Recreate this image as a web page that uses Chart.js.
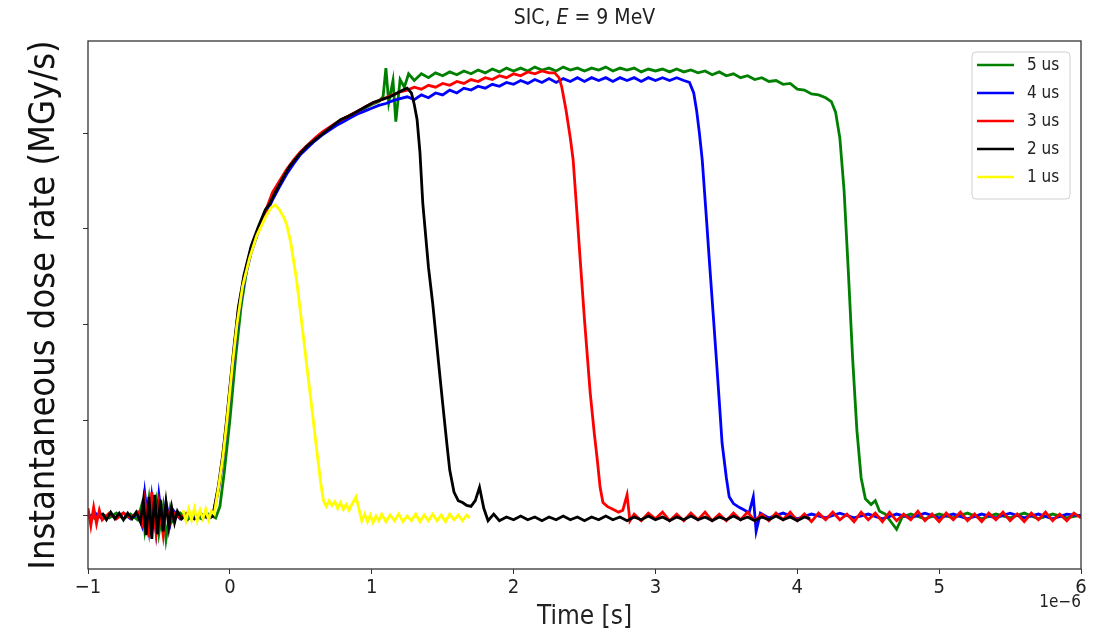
<!DOCTYPE html>
<html><head><meta charset="utf-8">
<script src="https://cdn.jsdelivr.net/npm/chart.js@4.4.1/dist/chart.umd.min.js"></script>
<style>html,body{margin:0;padding:0;background:#fff;}</style>
</head><body>
<canvas id="c" width="1107" height="640"></canvas>
<script>
// ---- data (time in microseconds, value in tick units) ----
const labels = ['1 us', '2 us', '3 us', '4 us', '5 us'];
const colors = ['#ffff00', '#000000', '#ff0000', '#0000ff', '#008000'];
const xTicks = [-1, 0, 1, 2, 3, 4, 5, 6];
const yTicks = [0, 1, 2, 3, 4];

const s1 = [[-0.33,0.06],[-0.31,-0.05],[-0.29,0.07],[-0.27,-0.04],[-0.25,0.08],[-0.23,-0.05],[-0.21,0.06],[-0.19,-0.03],[-0.17,0.07],[-0.15,-0.04],[-0.13,0.05],[-0.11,0.02],[-0.08,0.30],[-0.05,0.60],[-0.02,1.00],[0.00,1.30],[0.02,1.60],[0.05,2.00],[0.09,2.40],[0.14,2.70],[0.19,2.93],[0.25,3.12],[0.29,3.22],[0.32,3.25],[0.35,3.20],[0.38,3.12],[0.40,3.05],[0.43,2.85],[0.47,2.47],[0.50,2.10],[0.54,1.60],[0.58,1.10],[0.61,0.72],[0.64,0.35],[0.66,0.16],[0.68,0.10],[0.70,0.16],[0.72,0.11],[0.74,0.15],[0.76,0.08],[0.78,0.14],[0.80,0.07],[0.82,0.12],[0.84,0.06],[0.86,0.12],[0.89,0.20],[0.91,0.07],[0.93,-0.05],[0.95,0.02],[0.97,-0.06],[0.99,0.01],[1.01,-0.07],[1.03,0.00],[1.05,-0.05],[1.07,0.02],[1.10,-0.06],[1.13,0.01],[1.16,-0.05],[1.19,0.02],[1.22,-0.06],[1.25,0.00],[1.28,-0.05],[1.31,0.02],[1.34,-0.06],[1.37,0.01],[1.40,-0.05],[1.43,0.02],[1.46,-0.05],[1.49,0.01],[1.52,-0.06],[1.55,0.02],[1.58,-0.04],[1.61,0.01],[1.64,-0.05],[1.67,0.01],[1.69,-0.02]];

const s2 = [[-0.90,0.03],[-0.87,-0.04],[-0.84,0.04],[-0.81,-0.03],[-0.78,0.03],[-0.75,-0.04],[-0.72,0.03],[-0.69,-0.03],[-0.66,0.04],[-0.63,-0.06],[-0.61,0.16],[-0.59,-0.20],[-0.57,0.20],[-0.55,-0.24],[-0.53,0.22],[-0.51,-0.19],[-0.49,0.17],[-0.47,-0.16],[-0.45,0.14],[-0.43,-0.12],[-0.41,0.09],[-0.39,-0.07],[-0.37,0.05],[-0.34,-0.03],[-0.30,0.02],[-0.25,-0.03],[-0.20,0.02],[-0.15,-0.02],[-0.12,0.00],[-0.08,0.32],[-0.05,0.64],[-0.02,1.04],[0.00,1.34],[0.03,1.78],[0.06,2.18],[0.10,2.52],[0.15,2.82],[0.20,3.02],[0.25,3.20],[0.28,3.26],[0.32,3.38],[0.37,3.52],[0.42,3.65],[0.48,3.76],[0.54,3.86],[0.60,3.93],[0.66,4.00],[0.72,4.07],[0.78,4.14],[0.84,4.18],[0.89,4.22],[0.95,4.27],[1.01,4.32],[1.07,4.35],[1.13,4.38],[1.18,4.42],[1.22,4.45],[1.25,4.47],[1.28,4.42],[1.30,4.30],[1.32,4.14],[1.34,3.80],[1.36,3.27],[1.40,2.60],[1.43,2.22],[1.47,1.62],[1.50,1.18],[1.53,0.75],[1.55,0.48],[1.58,0.25],[1.61,0.16],[1.64,0.14],[1.67,0.11],[1.70,0.10],[1.73,0.16],[1.76,0.30],[1.79,0.08],[1.82,-0.05],[1.86,0.02],[1.90,-0.05],[1.95,-0.01],[2.00,-0.04],[2.05,0.00],[2.10,-0.04],[2.15,-0.01],[2.20,-0.05],[2.25,-0.01],[2.30,-0.04],[2.35,0.00],[2.40,-0.04],[2.45,-0.01],[2.50,-0.05],[2.55,-0.01],[2.60,-0.04],[2.65,0.00],[2.70,-0.04],[2.75,-0.01],[2.80,-0.05],[2.85,-0.01],[2.90,-0.04],[2.95,0.00],[3.00,-0.04],[3.05,-0.01],[3.10,-0.05],[3.15,-0.01],[3.20,-0.04],[3.25,0.00],[3.30,-0.04],[3.35,-0.01],[3.40,-0.05],[3.45,-0.01],[3.50,-0.04],[3.55,0.00],[3.60,-0.04],[3.65,-0.01],[3.70,-0.05],[3.75,-0.01],[3.80,-0.04],[3.85,0.00],[3.90,-0.04],[3.95,-0.01],[4.00,-0.05],[4.05,-0.01],[4.09,-0.03]];

const s3 = [[-1.00,0.08],[-0.98,-0.10],[-0.96,0.09],[-0.94,-0.08],[-0.92,0.06],[-0.90,-0.04],[-0.85,0.03],[-0.80,-0.03],[-0.75,0.03],[-0.70,-0.02],[-0.65,0.04],[-0.62,-0.08],[-0.60,0.16],[-0.57,-0.22],[-0.55,0.25],[-0.52,-0.18],[-0.50,0.12],[-0.47,-0.20],[-0.45,0.10],[-0.42,-0.06],[-0.40,0.04],[-0.35,-0.02],[-0.30,0.03],[-0.25,-0.03],[-0.20,0.02],[-0.15,-0.02],[-0.12,0.00],[-0.08,0.30],[-0.05,0.62],[-0.02,1.02],[0.00,1.32],[0.03,1.75],[0.06,2.15],[0.10,2.50],[0.15,2.80],[0.20,3.00],[0.25,3.18],[0.30,3.38],[0.35,3.50],[0.40,3.62],[0.45,3.72],[0.50,3.81],[0.55,3.88],[0.60,3.95],[0.65,4.01],[0.70,4.06],[0.75,4.11],[0.80,4.15],[0.85,4.19],[0.90,4.23],[0.95,4.27],[1.00,4.31],[1.05,4.34],[1.10,4.37],[1.15,4.40],[1.20,4.43],[1.25,4.45],[1.30,4.48],[1.35,4.46],[1.40,4.50],[1.45,4.48],[1.50,4.52],[1.55,4.50],[1.60,4.54],[1.65,4.52],[1.70,4.56],[1.75,4.54],[1.80,4.58],[1.85,4.56],[1.90,4.60],[1.95,4.58],[2.00,4.62],[2.05,4.60],[2.10,4.64],[2.15,4.62],[2.20,4.65],[2.25,4.63],[2.29,4.63],[2.32,4.58],[2.34,4.48],[2.37,4.24],[2.40,3.95],[2.42,3.72],[2.45,3.10],[2.47,2.67],[2.50,2.05],[2.54,1.29],[2.57,0.85],[2.59,0.59],[2.61,0.30],[2.63,0.14],[2.66,0.10],[2.70,0.07],[2.74,0.04],[2.77,0.06],[2.80,0.22],[2.82,-0.05],[2.85,0.02],[2.90,-0.05],[2.95,0.03],[3.00,-0.03],[3.05,0.04],[3.10,-0.05],[3.15,0.02],[3.20,-0.05],[3.25,0.03],[3.30,-0.04],[3.35,0.04],[3.40,-0.05],[3.45,0.02],[3.50,-0.05],[3.55,0.03],[3.60,-0.04],[3.65,0.04],[3.70,-0.05],[3.75,0.02],[3.80,-0.05],[3.85,0.03],[3.90,-0.04],[3.95,0.04],[4.00,-0.05],[4.05,0.02],[4.10,-0.06],[4.15,0.03],[4.20,-0.04],[4.25,0.04],[4.30,-0.04],[4.35,0.02],[4.40,-0.06],[4.45,0.04],[4.50,-0.04],[4.55,0.03],[4.60,-0.06],[4.65,0.04],[4.70,-0.05],[4.75,0.02],[4.80,-0.04],[4.85,0.05],[4.90,-0.05],[4.95,0.02],[5.00,-0.06],[5.05,0.03],[5.10,-0.04],[5.15,0.04],[5.20,-0.05],[5.25,0.02],[5.30,-0.06],[5.35,0.03],[5.40,-0.04],[5.45,0.04],[5.50,-0.05],[5.55,0.02],[5.60,-0.06],[5.65,0.03],[5.70,-0.04],[5.75,0.04],[5.80,-0.05],[5.85,0.02],[5.90,-0.05],[5.95,0.03],[6.00,-0.02]];

const s4 = [[-1.00,-0.02],[-0.95,0.03],[-0.90,-0.03],[-0.85,0.02],[-0.80,-0.02],[-0.75,0.03],[-0.70,-0.03],[-0.65,0.02],[-0.62,-0.10],[-0.60,0.24],[-0.57,-0.14],[-0.55,0.20],[-0.52,-0.16],[-0.50,0.22],[-0.47,-0.12],[-0.45,0.14],[-0.42,-0.08],[-0.40,0.06],[-0.35,-0.03],[-0.30,0.03],[-0.25,-0.02],[-0.20,0.02],[-0.15,-0.03],[-0.12,0.00],[-0.08,0.28],[-0.05,0.58],[-0.02,0.98],[0.00,1.28],[0.03,1.70],[0.06,2.10],[0.10,2.45],[0.15,2.75],[0.20,2.97],[0.25,3.14],[0.30,3.30],[0.35,3.44],[0.40,3.57],[0.45,3.68],[0.50,3.78],[0.55,3.85],[0.60,3.92],[0.65,3.98],[0.70,4.03],[0.75,4.08],[0.80,4.12],[0.85,4.16],[0.90,4.20],[0.95,4.23],[1.00,4.26],[1.05,4.29],[1.10,4.31],[1.15,4.34],[1.20,4.36],[1.25,4.38],[1.30,4.35],[1.35,4.40],[1.40,4.37],[1.45,4.42],[1.50,4.40],[1.55,4.45],[1.60,4.42],[1.65,4.47],[1.70,4.45],[1.75,4.49],[1.80,4.47],[1.85,4.51],[1.90,4.49],[1.95,4.53],[2.00,4.51],[2.05,4.55],[2.10,4.52],[2.15,4.56],[2.20,4.53],[2.25,4.57],[2.30,4.53],[2.35,4.57],[2.40,4.54],[2.45,4.58],[2.50,4.54],[2.55,4.58],[2.60,4.55],[2.65,4.58],[2.70,4.54],[2.75,4.58],[2.80,4.55],[2.85,4.58],[2.90,4.54],[2.95,4.58],[3.00,4.55],[3.05,4.58],[3.10,4.55],[3.15,4.58],[3.20,4.55],[3.24,4.53],[3.27,4.42],[3.29,4.24],[3.31,4.00],[3.33,3.72],[3.36,3.10],[3.38,2.67],[3.41,2.05],[3.43,1.63],[3.45,1.20],[3.47,0.76],[3.50,0.40],[3.52,0.20],[3.55,0.13],[3.59,0.09],[3.63,0.06],[3.66,0.03],[3.69,0.20],[3.71,-0.16],[3.74,0.03],[3.80,-0.02],[3.90,0.03],[4.00,-0.03],[4.10,0.02],[4.20,-0.02],[4.30,0.03],[4.40,-0.02],[4.50,0.02],[4.60,-0.03],[4.70,0.02],[4.80,-0.02],[4.90,0.03],[5.00,-0.02],[5.10,0.02],[5.20,-0.03],[5.30,0.02],[5.40,-0.02],[5.50,0.03],[5.60,-0.02],[5.70,0.02],[5.80,-0.03],[5.90,0.02],[6.00,0.00]];

const s5 = [[-1.00,0.02],[-0.95,-0.03],[-0.90,0.02],[-0.85,-0.02],[-0.80,0.03],[-0.75,-0.03],[-0.70,0.02],[-0.65,-0.04],[-0.62,0.12],[-0.60,-0.15],[-0.57,0.18],[-0.55,-0.12],[-0.52,0.15],[-0.50,-0.18],[-0.47,0.10],[-0.45,-0.24],[-0.42,0.08],[-0.40,-0.05],[-0.35,0.03],[-0.30,-0.04],[-0.25,0.02],[-0.20,-0.03],[-0.15,0.02],[-0.10,-0.02],[-0.07,0.10],[-0.04,0.45],[0.00,1.00],[0.04,1.65],[0.08,2.20],[0.12,2.58],[0.16,2.85],[0.20,3.00],[0.25,3.18],[0.30,3.33],[0.35,3.47],[0.40,3.60],[0.45,3.70],[0.50,3.80],[0.55,3.87],[0.60,3.94],[0.65,4.00],[0.70,4.05],[0.75,4.10],[0.80,4.15],[0.85,4.19],[0.90,4.23],[0.95,4.26],[1.00,4.30],[1.05,4.33],[1.08,4.38],[1.10,4.68],[1.12,4.32],[1.15,4.55],[1.17,4.12],[1.20,4.56],[1.23,4.48],[1.26,4.62],[1.30,4.55],[1.35,4.62],[1.40,4.58],[1.45,4.63],[1.50,4.60],[1.55,4.64],[1.60,4.61],[1.65,4.65],[1.70,4.62],[1.75,4.66],[1.80,4.63],[1.85,4.67],[1.90,4.64],[1.95,4.68],[2.00,4.65],[2.05,4.68],[2.10,4.65],[2.15,4.69],[2.20,4.66],[2.25,4.68],[2.30,4.65],[2.35,4.69],[2.40,4.66],[2.45,4.68],[2.50,4.65],[2.55,4.68],[2.60,4.66],[2.65,4.69],[2.70,4.65],[2.75,4.68],[2.80,4.66],[2.85,4.68],[2.90,4.64],[2.95,4.67],[3.00,4.65],[3.05,4.67],[3.10,4.64],[3.15,4.67],[3.20,4.64],[3.25,4.66],[3.30,4.63],[3.35,4.65],[3.40,4.61],[3.45,4.64],[3.50,4.60],[3.55,4.62],[3.60,4.58],[3.65,4.60],[3.70,4.56],[3.75,4.58],[3.80,4.54],[3.85,4.55],[3.90,4.51],[3.95,4.52],[4.00,4.46],[4.05,4.45],[4.10,4.41],[4.15,4.40],[4.20,4.37],[4.24,4.33],[4.27,4.22],[4.30,3.95],[4.33,3.40],[4.36,2.55],[4.39,1.65],[4.42,0.90],[4.45,0.40],[4.48,0.18],[4.52,0.12],[4.55,0.16],[4.58,0.05],[4.62,0.02],[4.66,-0.06],[4.70,-0.14],[4.74,-0.01],[4.80,0.02],[4.90,-0.03],[5.00,0.02],[5.10,-0.02],[5.20,0.03],[5.30,-0.03],[5.40,0.02],[5.50,-0.02],[5.60,0.03],[5.70,-0.03],[5.80,0.02],[5.90,-0.02],[6.00,0.01]];

const seriesData = [s1, s2, s3, s4, s5];

// ---- styling ----
const FONT = "'DejaVu Sans Condensed', 'Liberation Sans Narrow', 'DejaVu Sans', sans-serif";
const fmt = v => (v < 0 ? '\u2212' + Math.abs(v) : String(v));

const framePlugin = {
  id: 'frame',
  afterDatasetsDraw(chart) {
    const {ctx, chartArea: a} = chart;
    ctx.save();
    ctx.strokeStyle = '#333';
    ctx.lineWidth = 1.3;
    ctx.strokeRect(a.left, a.top, a.right - a.left, a.bottom - a.top);
    ctx.restore();
  }
};

const titlePlugin = {
  id: 'mpltitle',
  afterDraw(chart) {
    const {ctx, chartArea: a} = chart;
    const size = 21;
    const parts = [['SIC, ', 'normal'], ['E', 'italic'], [' = 9 MeV', 'normal']];
    ctx.save();
    ctx.fillStyle = '#222';
    ctx.textBaseline = 'middle';
    let total = 0;
    parts.forEach(p => { ctx.font = p[1] + ' ' + size + 'px ' + FONT; total += ctx.measureText(p[0]).width; });
    let x = (a.left + a.right) / 2 - total / 2;
    parts.forEach(p => { ctx.font = p[1] + ' ' + size + 'px ' + FONT; ctx.fillText(p[0], x, 19); x += ctx.measureText(p[0]).width; });
    // offset text for x axis
    ctx.font = '17px ' + FONT;
    ctx.textAlign = 'right';
    ctx.fillText('1e\u22126', a.right, 603);
    ctx.restore();
  }
};

const legendPlugin = {
  id: 'mpllegend',
  afterDraw(chart) {
    const {ctx} = chart;
    const ds = chart.data.datasets.slice().reverse();
    const bx = 972, by = 52, bw = 98, bh = 147, r = 4;
    ctx.save();
    ctx.fillStyle = 'rgba(255,255,255,0.8)';
    ctx.strokeStyle = '#d0d0d0';
    ctx.lineWidth = 1;
    ctx.beginPath();
    ctx.moveTo(bx + r, by); ctx.lineTo(bx + bw - r, by); ctx.quadraticCurveTo(bx + bw, by, bx + bw, by + r);
    ctx.lineTo(bx + bw, by + bh - r); ctx.quadraticCurveTo(bx + bw, by + bh, bx + bw - r, by + bh);
    ctx.lineTo(bx + r, by + bh); ctx.quadraticCurveTo(bx, by + bh, bx, by + bh - r);
    ctx.lineTo(bx, by + r); ctx.quadraticCurveTo(bx, by, bx + r, by);
    ctx.closePath(); ctx.fill(); ctx.stroke();
    ctx.font = '17px ' + FONT;
    ctx.textBaseline = 'middle';
    ds.forEach((d, i) => {
      const y = 65 + i * 28;
      ctx.strokeStyle = d.borderColor;
      ctx.lineWidth = 2.5;
      ctx.beginPath(); ctx.moveTo(977, y); ctx.lineTo(1014, y); ctx.stroke();
      ctx.fillStyle = '#222';
      ctx.fillText(d.label, 1027, y + 1);
    });
    ctx.restore();
  }
};

new Chart(document.getElementById('c'), {
  type: 'line',
  data: {
    datasets: seriesData.map((s, i) => ({
      label: labels[i],
      data: s.map(p => ({x: p[0], y: p[1]})),
      borderColor: colors[i],
      backgroundColor: colors[i],
      borderWidth: 2.8,
      pointRadius: 0,
      fill: false,
      tension: 0
    }))
  },
  options: {
    responsive: false,
    animation: false,
    devicePixelRatio: 1,
    layout: {padding: {top: 41, right: 26, left: 0, bottom: 0}},
    plugins: {legend: {display: false}, tooltip: {enabled: false}, title: {display: false}},
    scales: {
      x: {
        type: 'linear', min: -1, max: 6,
        afterBuildTicks: s => { s.ticks = xTicks.map(v => ({value: v})); },
        afterFit: s => { s.height = 71; },
        ticks: {callback: v => fmt(v), font: {family: FONT, size: 20}, color: '#222', padding: 2, maxRotation: 0, autoSkip: false},
        grid: {drawOnChartArea: false, drawTicks: true, tickLength: 5, color: '#333'},
        border: {display: false},
        title: {display: true, text: 'Time [s]', font: {family: FONT, size: 26}, color: '#222', padding: {top: 0, bottom: 7}}
      },
      y: {
        type: 'linear', min: -0.554, max: 4.963,
        afterBuildTicks: s => { s.ticks = yTicks.map(v => ({value: v})); },
        afterFit: s => { s.width = 88; },
        ticks: {callback: () => '', padding: 0},
        grid: {drawOnChartArea: false, drawTicks: true, tickLength: 5, color: '#333'},
        border: {display: false},
        title: {display: true, text: 'Instantaneous dose rate (MGy/s)', font: {family: FONT, size: 36}, color: '#111', padding: {top: 23, bottom: 0}}
      }
    }
  },
  plugins: [framePlugin, titlePlugin, legendPlugin]
});
</script>
</body></html>
